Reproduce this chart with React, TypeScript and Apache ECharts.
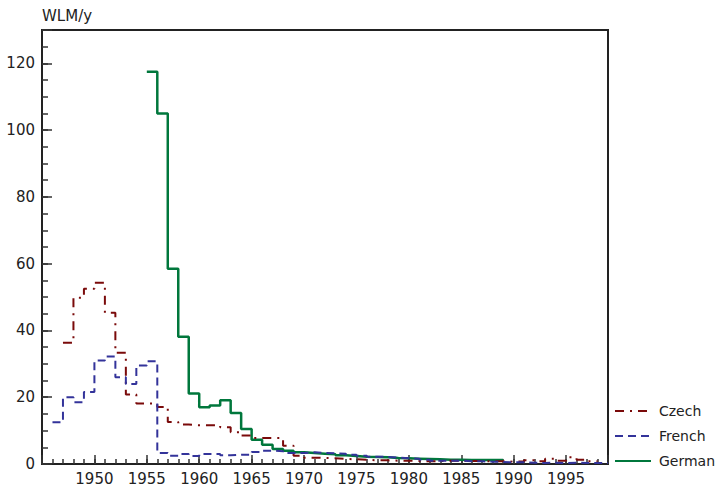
import React, { useEffect, useRef } from "react";
import * as echarts from "echarts";

// Annual exposure (WLM/y), one value per calendar year starting at the given year
const czechStart = 1947;
const czechValues = [
  36.3, 49.8, 52.5, 54.3, 45.3, 33.3, 20.8, 18.1, 18.1, 17.1,
  12.6, 11.8, 11.6, 11.6, 11.6, 11.0, 9.5, 8.5, 7.8, 7.8,
  7.8, 5.5, 2.5, 1.9, 1.8, 1.7, 1.5, 1.4, 1.3, 1.1,
  1.1, 1.0, 1.0, 0.9, 0.8, 0.9, 1.0, 1.0, 0.9, 0.9,
  0.8, 0.8, 0.7, 0.8, 1.1, 0.8, 1.6, 1.0, 2.0, 1.3,
  0.8,
];

const frenchStart = 1946;
const frenchValues = [
  12.5, 20.0, 18.5, 21.6, 31.0, 32.2, 26.0, 24.0, 29.5, 30.8,
  3.3, 2.5, 3.0, 2.4, 3.0, 3.0, 2.6, 2.8, 2.8, 3.6,
  4.0, 3.8, 3.3, 3.3, 3.5, 3.3, 3.2, 3.1, 2.8, 2.5,
  2.2, 2.1, 1.9, 1.7, 1.6, 1.3, 1.0, 1.0, 1.0, 0.8,
  0.8, 0.7, 0.6, 0.5, 0.5, 0.4, 0.3, 0.4, 0.3, 0.4,
  0.3, 0.3, 0.3,
];

const germanStart = 1955;
const germanValues = [
  117.5, 105.0, 58.5, 38.1, 21.1, 17.0, 17.5, 19.1, 15.3, 10.5,
  7.3, 5.8, 4.5, 4.0, 3.5, 3.3, 3.1, 2.9, 2.6, 2.4,
  2.2, 2.1, 2.0, 1.8, 1.7, 1.6, 1.5, 1.4, 1.3, 1.3,
  1.2, 1.2, 1.2, 1.2,
];

const seriesNames = ["Czech", "French", "German"];
const xMin = 1945;
const xMax = 1999;
const yMax = 130;

function toSteps(start: number, values: number[]): number[][] {
  const pts = values.map((v, i) => [start + i, v]);
  pts.push([start + values.length, values[values.length - 1]]);
  return pts;
}

export default function App() {
  const ref = useRef<HTMLDivElement>(null);
  useEffect(() => {
    if (!ref.current) return;
    const chart = echarts.init(ref.current, null, { renderer: "svg" });
    const font = "DejaVu Sans";
    const textColor = "#222";
    const tickColor = "#333";
    chart.setOption({
      animation: false,
      backgroundColor: "#fff",
      grid: {
        left: 42,
        right: 108,
        top: 30,
        bottom: 23,
        show: true,
        borderColor: "#222",
        borderWidth: 2,
        backgroundColor: "transparent",
      },
      legend: {
        orient: "vertical",
        left: 614,
        top: 404,
        padding: 0,
        itemWidth: 36,
        itemHeight: 12,
        itemGap: 11,
        itemStyle: { opacity: 0 },
        textStyle: { fontFamily: font, fontSize: 14, color: textColor, padding: [0, 0, 0, 3] },
        data: seriesNames,
      },
      xAxis: [
        {
          type: "value",
          min: xMin,
          max: xMax,
          interval: 5,
          axisLine: { show: false },
          axisTick: { show: true, inside: true, length: 9, lineStyle: { color: tickColor, width: 1.5 } },
          splitLine: { show: false },
          axisLabel: {
            margin: 7,
            fontFamily: font,
            fontSize: 15,
            color: textColor,
            formatter: (v: number) => (v % 5 === 0 && v > xMin ? String(v) : ""),
          },
        },
        {
          type: "value",
          min: xMin,
          max: xMax,
          interval: 1,
          position: "bottom",
          axisLine: { show: false },
          axisTick: { show: true, inside: true, length: 5, lineStyle: { color: tickColor, width: 1.5 } },
          splitLine: { show: false },
          axisLabel: { show: false },
        },
      ],
      yAxis: [
        {
          type: "value",
          min: 0,
          max: yMax,
          interval: 20,
          name: "WLM/y",
          nameLocation: "end",
          nameGap: 7,
          nameTextStyle: { fontFamily: font, fontSize: 15, color: textColor, align: "left" },
          axisLine: { show: false },
          axisTick: { show: true, inside: true, length: 10, lineStyle: { color: tickColor, width: 1.5 } },
          splitLine: { show: false },
          axisLabel: {
            margin: 7,
            fontFamily: font,
            fontSize: 15,
            color: textColor,
            formatter: (v: number) => (v < yMax ? String(v) : ""),
          },
        },
        {
          type: "value",
          min: 0,
          max: yMax,
          interval: 5,
          position: "left",
          axisLine: { show: false },
          axisTick: { show: true, inside: true, length: 6, lineStyle: { color: tickColor, width: 1.5 } },
          splitLine: { show: false },
          axisLabel: { show: false },
        },
      ],
      series: [
        {
          name: seriesNames[0],
          type: "line",
          step: "end",
          showSymbol: false,
          symbol: "none",
          color: "#7a0a0a",
          lineStyle: { color: "#7a0a0a", width: 2, type: [9, 6, 2, 6] },
          data: toSteps(czechStart, czechValues),
          z: 3,
        },
        {
          name: seriesNames[1],
          type: "line",
          step: "end",
          showSymbol: false,
          symbol: "none",
          color: "#33339a",
          lineStyle: { color: "#33339a", width: 2, type: [8, 5] },
          data: toSteps(frenchStart, frenchValues),
          z: 4,
        },
        {
          name: seriesNames[2],
          type: "line",
          step: "end",
          showSymbol: false,
          symbol: "none",
          color: "#00773c",
          lineStyle: { color: "#00773c", width: 2.5, type: "solid" },
          data: toSteps(germanStart, germanValues),
          z: 2,
        },
      ],
    });
    return () => chart.dispose();
  }, []);
  return (
    <div
      ref={ref}
      style={{ position: "fixed", left: 0, top: 0, width: 716, height: 487, background: "#fff" }}
    />
  );
}
